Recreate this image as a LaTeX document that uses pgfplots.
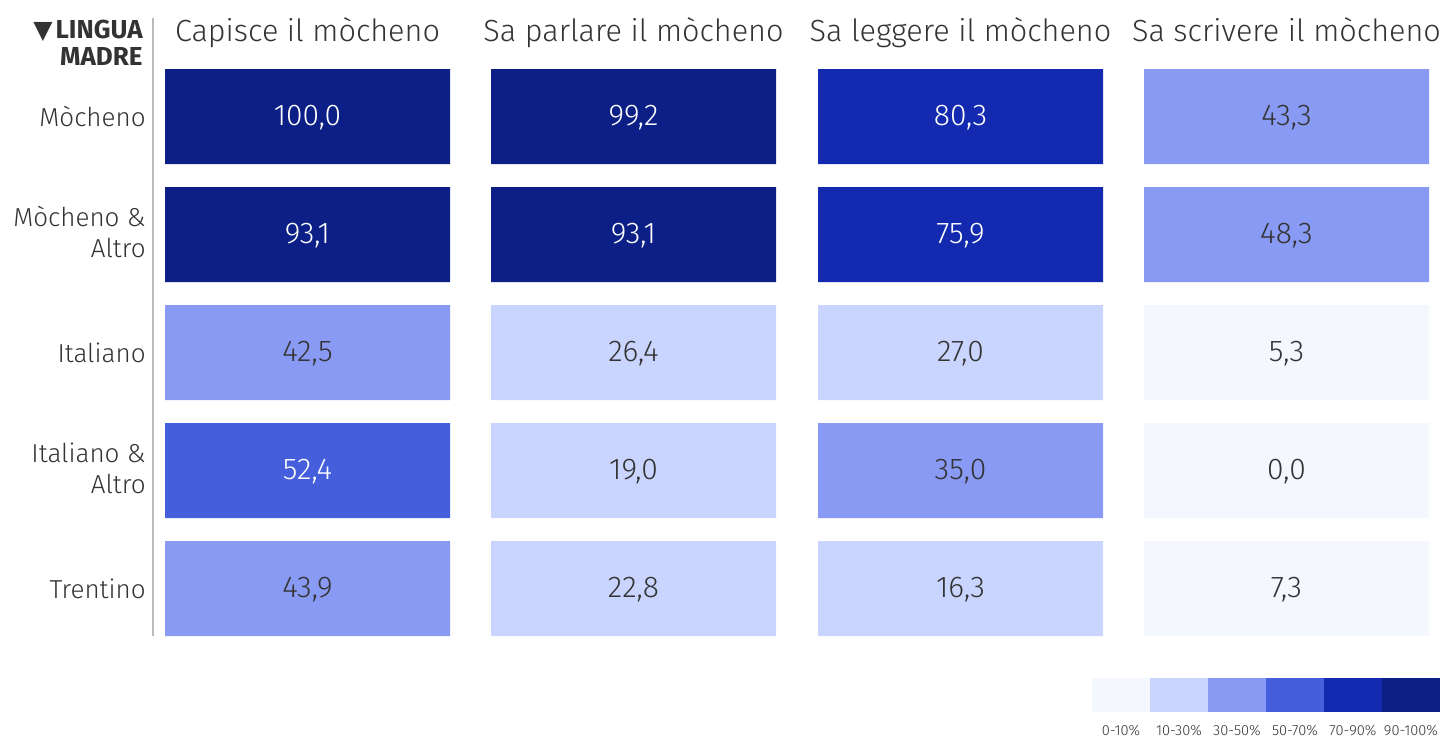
\documentclass[border=0pt]{standalone}
\usepackage{fontspec}
\setmainfont{Fira Sans}[UprightFont=* Light, BoldFont=* Bold]
\newfontfamily\symfont{DejaVu Sans}
\usepackage{pgfplots}
\pgfplotsset{compat=1.18}
\definecolor{c0}{HTML}{F5F7FF}
\definecolor{c1}{HTML}{CAD5FF}
\definecolor{c2}{HTML}{889AF3}
\definecolor{c3}{HTML}{455EDC}
\definecolor{c4}{HTML}{1329B0}
\definecolor{c5}{HTML}{0B1F86}
\definecolor{txt}{HTML}{333333}
\definecolor{rule}{HTML}{BBBBBB}
\pgfdeclareplotmark{cell}{%
  \pgfsetcornersarced{\pgfpoint{2.5pt}{2.5pt}}%
  \pgfpathmoveto{\pgfpoint{-71.25pt}{0pt}}%
  \pgfpathlineto{\pgfpoint{-71.25pt}{23.75pt}}%
  \pgfpathlineto{\pgfpoint{71.25pt}{23.75pt}}%
  \pgfpathlineto{\pgfpoint{71.25pt}{-23.75pt}}%
  \pgfpathlineto{\pgfpoint{-71.25pt}{-23.75pt}}%
  \pgfpathclose
  \pgfusepathqfill}
\begin{document}
\begin{tikzpicture}
\begin{axis}[
  width=722.5pt, height=369.5pt, scale only axis,
  xmin=0, xmax=1445, ymin=0, ymax=739, y dir=reverse,
  hide axis, clip=false,
  nodes near coords, point meta=explicit symbolic,
  every node near coord/.append style={anchor=center, yshift=-0.8pt, font=\fontsize{15}{17}\selectfont},
]
\addplot[only marks, mark=cell, color=c5, every node near coord/.append style={text=white}] table[meta=l]{
x y l
307.5 116.5 100,0
307.5 234.5 93,1
633.5 116.5 99,2
633.5 234.5 93,1
};
\addplot[only marks, mark=cell, color=c4, every node near coord/.append style={text=white}] table[meta=l]{
x y l
960.5 116.5 80,3
960.5 234.5 75,9
};
\addplot[only marks, mark=cell, color=c3, every node near coord/.append style={text=white}] table[meta=l]{
x y l
307.5 470.5 52,4
};
\addplot[only marks, mark=cell, color=c2, every node near coord/.append style={text=txt}] table[meta=l]{
x y l
307.5 352.5 42,5
307.5 588.5 43,9
960.5 470.5 35,0
1286.5 116.5 43,3
1286.5 234.5 48,3
};
\addplot[only marks, mark=cell, color=c1, every node near coord/.append style={text=txt}] table[meta=l]{
x y l
633.5 352.5 26,4
633.5 470.5 19,0
633.5 588.5 22,8
960.5 352.5 27,0
960.5 588.5 16,3
};
\addplot[only marks, mark=cell, color=c0, every node near coord/.append style={text=txt}] table[meta=l]{
x y l
1286.5 352.5 5,3
1286.5 470.5 0,0
1286.5 588.5 7,3
};
% headers
\begin{scope}[every node/.style={anchor=base, text=txt, font=\fontsize{15.3}{18}\selectfont, inner sep=0pt}]
\node at (axis cs:307.5,41) {Capisce il mòcheno};
\node at (axis cs:633.5,41) {Sa parlare il mòcheno};
\node at (axis cs:960.5,41) {Sa leggere il mòcheno};
\node at (axis cs:1286.5,41) {Sa scrivere il mòcheno};
\end{scope}
% row labels
\begin{scope}[every node/.style={anchor=base east, text=txt, font=\fontsize{13}{15}\selectfont, inner sep=0pt}]
\node at (axis cs:146,126) {Mòcheno};
\node at (axis cs:146,226) {Mòcheno \&};
\node at (axis cs:146,257) {Altro};
\node at (axis cs:146,362) {Italiano};
\node at (axis cs:146,462) {Italiano \&};
\node at (axis cs:146,493) {Altro};
\node at (axis cs:146,598) {Trentino};
\end{scope}
\node[anchor=base east, inner sep=0pt, text=txt, font=\bfseries\fontsize{13}{14}\selectfont] at (axis cs:143,38) {{\symfont\fontsize{12.5}{13}\selectfont ▼}\hspace{1.5pt}LINGUA};
\node[anchor=base east, inner sep=0pt, text=txt, font=\bfseries\fontsize{13}{14}\selectfont] at (axis cs:143,65) {MADRE};
\draw[rule, line width=0.75pt] (axis cs:153,18) -- (axis cs:153,636);
% legend
\fill[c0] (axis cs:1092,678) rectangle (axis cs:1150,712);
\fill[c1] (axis cs:1150,678) rectangle (axis cs:1208,712);
\fill[c2] (axis cs:1208,678) rectangle (axis cs:1266,712);
\fill[c3] (axis cs:1266,678) rectangle (axis cs:1324,712);
\fill[c4] (axis cs:1324,678) rectangle (axis cs:1382,712);
\fill[c5] (axis cs:1382,678) rectangle (axis cs:1440,712);
\begin{scope}[every node/.style={anchor=base, text=txt, font=\fontsize{7.3}{8.5}\selectfont, inner sep=0pt}]
\node at (axis cs:1121,735) {0-10\%};
\node at (axis cs:1179,735) {10-30\%};
\node at (axis cs:1237,735) {30-50\%};
\node at (axis cs:1295,735) {50-70\%};
\node at (axis cs:1353,735) {70-90\%};
\node at (axis cs:1411,735) {90-100\%};
\end{scope}
\end{axis}
\pgfresetboundingbox
\path[use as bounding box] (current axis.south west) rectangle (current axis.north east);
\end{tikzpicture}
\end{document}
